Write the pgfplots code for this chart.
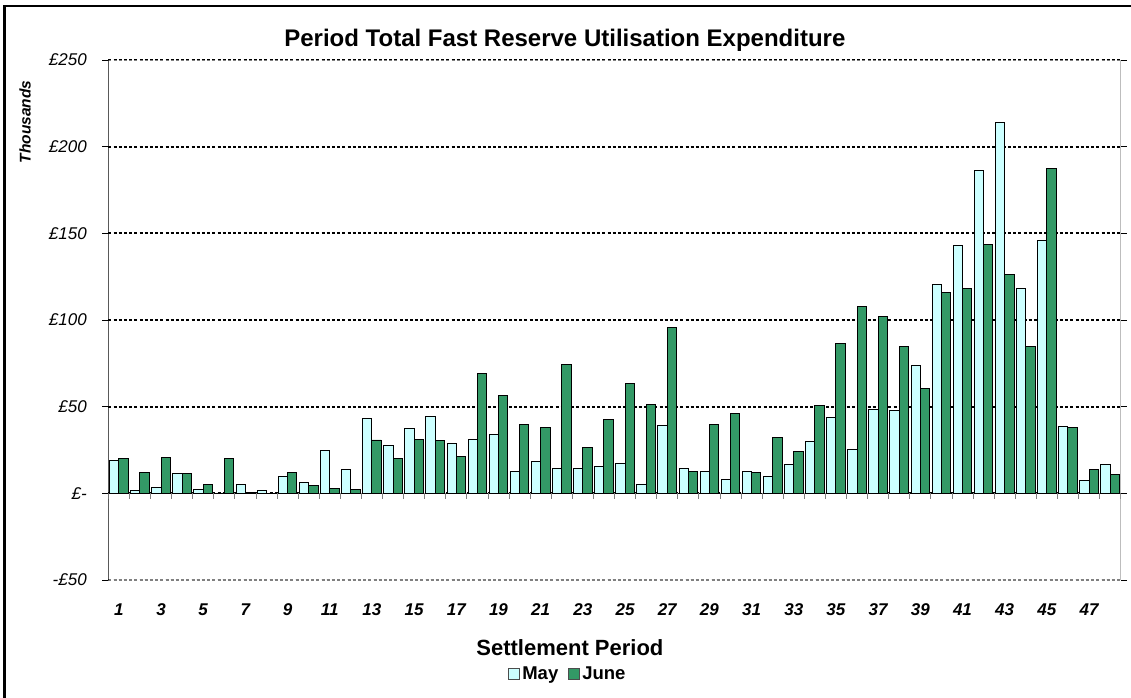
\documentclass[border=0pt]{standalone}
\usepackage{pgfplots}
\pgfplotsset{compat=1.18}
\usepackage{fontspec}
\setmainfont{Liberation Sans}
\definecolor{mayc}{RGB}{204,255,255}
\definecolor{junec}{RGB}{51,153,102}
\begin{document}
\begin{tikzpicture}[x=1pt,y=1pt]
\useasboundingbox (0,0) rectangle (1131,697);
\draw[line width=2.5pt] (4.5,-10) -- (4.5,691) -- (1145,691);
\begin{axis}[
  at={(108.3pt,117pt)}, anchor=south west,
  scale only axis, width=1012.4pt, height=520pt,
  xmin=0.5, xmax=48.5, ymin=-50, ymax=250,
  axis line style={draw=none},
  xtick={1,3,...,47},
  xticklabels={1,3,5,7,9,11,13,15,17,19,21,23,25,27,29,31,33,35,37,39,41,43,45,47},
  xtick style={draw=none},
  xticklabel style={font=\fontsize{17}{20}\selectfont\bfseries\itshape, yshift=-14pt},
  ytick={-50,0,50,100,150,200,250},
  yticklabels={-£50,£-,£50,£100,£150,£200,£250},
  yticklabel style={font=\fontsize{17}{20}\selectfont\itshape, xshift=-12pt},
  ytick style={black, line width=0.8pt},
  tick align=outside, major tick length=6pt,
  ymajorgrids,
  grid style={black, line width=2pt, dash pattern=on 3pt off 2.2pt},
  title={Period Total Fast Reserve Utilisation Expenditure},
  title style={font=\fontsize{24}{28}\selectfont\bfseries, at={(axis description cs:0.451,1.027)}, anchor=center},
  xlabel={Settlement Period},
  xlabel style={font=\fontsize{22}{26}\selectfont\bfseries, at={(axis description cs:0.456,-0.131)}, anchor=center},
  ylabel={Thousands},
  ylabel style={font=\fontsize{15.5}{18}\selectfont\bfseries\itshape, at={(axis description cs:-0.0823,0.881)}, anchor=center},
  legend columns=2,
  legend style={at={(axis description cs:0.454,-0.181)}, anchor=center, draw=none, fill=none,
    font=\fontsize{18.5}{21}\selectfont\bfseries,
    /tikz/every even column/.append style={column sep=8pt},
    inner sep=1pt},
  ybar, bar width=9.3pt,
]
\addplot[draw=black, fill=mayc, line width=0.9pt, bar shift=-4.65pt,
  legend image code/.code={\draw[draw=gray!60!black, fill=mayc, line width=1pt] (0pt,-5.5pt) rectangle (11pt,5.5pt);}] coordinates {
(1,19.2) (2,1.9) (3,3.3) (4,11.2) (5,2.5) (6,0) (7,5.2) (8,1.9) (9,10.0) (10,6.5)
(11,24.6) (12,14.0) (13,43.1) (14,27.7) (15,37.2) (16,44.6) (17,28.6) (18,31.1) (19,34.0) (20,12.5)
(21,18.6) (22,14.6) (23,14.6) (24,15.4) (25,17.3) (26,5.4) (27,39.2) (28,14.6) (29,12.5) (30,7.9)
(31,12.5) (32,10.0) (33,16.6) (34,29.8) (35,43.8) (36,25.4) (37,48.4) (38,47.9) (39,73.8) (40,120.3)
(41,143.2) (42,186.5) (43,213.8) (44,118.4) (45,145.7) (46,38.4) (47,7.3) (48,16.5)};
\addlegendentry{May}
\addplot[draw=black, fill=junec, line width=0.9pt, bar shift=4.65pt,
  legend image code/.code={\draw[draw=gray!60!black, fill=junec, line width=1pt] (0pt,-5.5pt) rectangle (11pt,5.5pt);}] coordinates {
(1,20.0) (2,11.9) (3,20.6) (4,11.2) (5,5.2) (6,20.0) (7,0.4) (8,0) (9,11.9) (10,4.4)
(11,2.7) (12,2.1) (13,30.8) (14,20.0) (15,31.1) (16,30.6) (17,21.1) (18,69.2) (19,56.7) (20,39.8)
(21,38.1) (22,74.6) (23,26.7) (24,42.7) (25,63.2) (26,51.1) (27,95.7) (28,12.5) (29,39.8) (30,45.9)
(31,11.9) (32,32.0) (33,24.0) (34,50.6) (35,86.5) (36,107.8) (37,101.9) (38,84.6) (39,60.6) (40,115.9)
(41,118.4) (42,143.8) (43,126.5) (44,84.6) (45,187.2) (46,37.9) (47,13.5) (48,11.1)};
\addlegendentry{June}
\draw[gray, line width=1.6pt, dash pattern=on 3pt off 2.2pt] (rel axis cs:0,1) -- (rel axis cs:1,1);
\draw[gray, line width=1.6pt, dash pattern=on 3pt off 2.2pt] (rel axis cs:0,0) -- (rel axis cs:1,0);
\draw[gray!80, line width=1.5pt] (rel axis cs:1,0) -- (rel axis cs:1,1);
\draw[black, line width=1pt] (rel axis cs:0,0) -- (rel axis cs:0,1);
\draw[black, line width=1pt] (axis cs:0.5,0) -- (axis cs:48.5,0);
\pgfplotsinvokeforeach{0,...,48}{\draw[gray, line width=0.8pt] (axis cs:#1.5,0) -- ++(0pt,-6pt);}
\end{axis}
\end{tikzpicture}
\end{document}
